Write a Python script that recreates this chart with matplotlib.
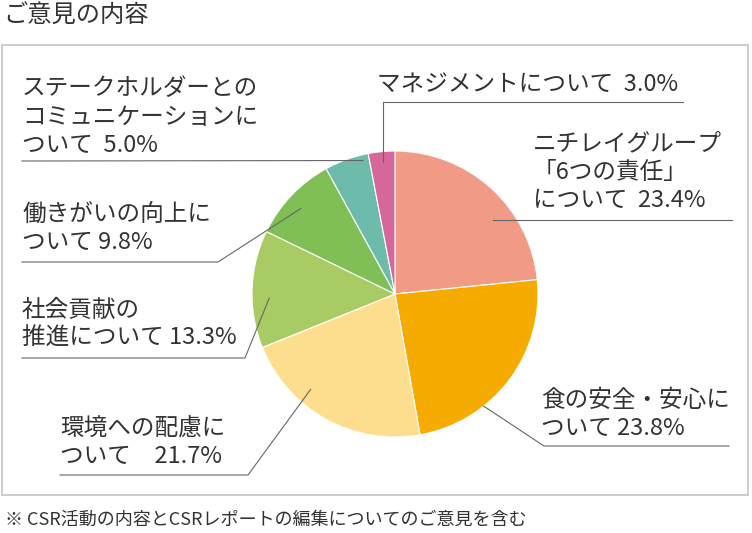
import numpy as np
import matplotlib
matplotlib.use("Agg")
import matplotlib.pyplot as plt
from matplotlib.patches import Rectangle

plt.rcParams['font.family'] = ['Noto Sans CJK JP', 'DejaVu Sans']

# data
labels = ["ニチレイグループ\n「6つの責任」\nについて  23.4%",
          "食の安全・安心に\nついて 23.8%",
          "環境への配慮に\nついて　21.7%",
          "社会貢献の\n推進について 13.3%",
          "働きがいの向上に\nついて 9.8%",
          "ステークホルダーとの\nコミュニケーションに\nついて  5.0%",
          "マネジメントについて  3.0%"]
values = [23.4, 23.8, 21.7, 13.3, 9.8, 5.0, 3.0]
colors = ["#F19A86", "#F6AB00", "#FDDE8F", "#A9CB63", "#80BE56", "#6DBBAA", "#D5679B"]

title = "ご意見の内容"
note = "※ CSR活動の内容とCSRレポートの編集についてのご意見を含む"

W, H = 752, 533
fig = plt.figure(figsize=(W / 100, H / 100), dpi=100)
ax = fig.add_axes([0, 0, 1, 1])

cx, cy, R = 395, 294, 143
wedges, _ = ax.pie(values, colors=colors, startangle=-90, counterclock=True,
                   center=(cx, cy), radius=R,
                   wedgeprops=dict(edgecolor="white", linewidth=0.8))
ax.set_xlim(0, W)
ax.set_ylim(H, 0)
ax.set_aspect("equal")
ax.axis("off")

# frame
ax.add_patch(Rectangle((2, 45), 746, 450, fill=False, edgecolor="#c8c8c8", lw=1.3))

txt = "#333333"
lc = "#666666"
fs = 17

ax.text(3, 16, title, fontsize=17.5, color=txt, ha="left", va="center")
ax.text(5, 520, note, fontsize=13, color=txt, ha="left", va="center")

# anchor on each wedge: fraction along the angle, fraction of radius
anchor = [(0.63, 0.86), (0.67, 1.0), (0.66, 0.89), (0.42, 0.88),
          (0.46, 0.89), (0.85, 0.96), (0.52, 0.93)]
pts = []
for w, (fa, fr) in zip(wedges, anchor):
    th = np.deg2rad(w.theta1 + fa * (w.theta2 - w.theta1))
    pts.append((cx + R * fr * np.cos(th), cy + R * fr * np.sin(th)))

# label layout: text position, leader path (from text side to anchor)
lay = [
    (533, 212, [(732, 220), (None, 220)]),
    (541, 440, [(729, 446), (544, 446)]),
    (60, 468, [(60, 475), (248, 475)]),
    (22, 350, [(22, 358), (245, 358)]),
    (22, 254, [(22, 262), (218, 262)]),
    (22, 157, [(22, 161)]),
    (377, 97, [(683, 102), (None, 102)]),
]

for lab, (tx, ty, path), (ax_, ay_) in zip(labels, lay, pts):
    ax.text(tx, ty, lab, fontsize=fs, color=txt, ha="left", va="bottom",
            linespacing=1.3)
    xs = [ax_ if px is None else px for px, py in path] + [ax_]
    ys = [py for px, py in path] + [ay_]
    ax.plot(xs, ys, color=lc, lw=0.8)

fig.savefig("out.png", dpi=100)
